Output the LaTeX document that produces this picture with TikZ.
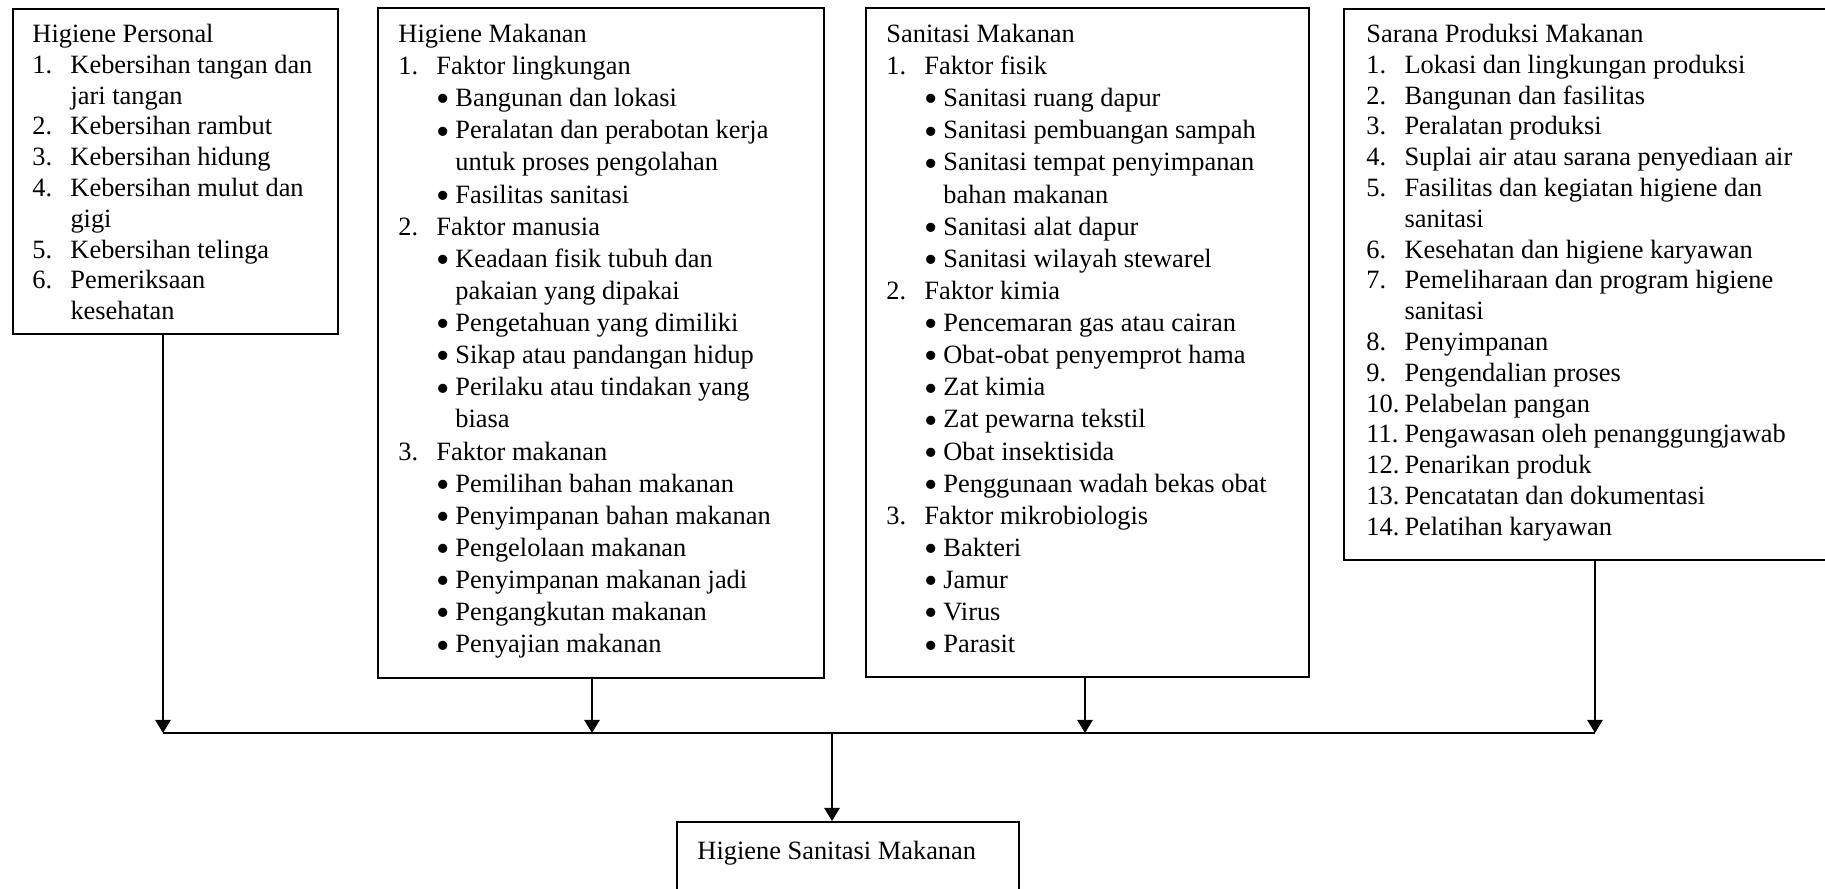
\documentclass[tikz,border=0pt]{standalone}
\usepackage{fontspec}
\usepackage{graphicx}
\setmainfont{Liberation Serif}
\usetikzlibrary{arrows.meta}

% list layout: number column and bullet column
\newlength\numw \setlength\numw{17.3pt}
\newlength\bulw \setlength\bulw{8.6pt}
\newcommand\bul{\raisebox{-2.4pt}{\scalebox{1.45}{\textbullet}}}
\newcommand\nitem[1]{\makebox[\numw][l]{#1}}
\newcommand\ncont{\hspace*{\numw}}
\newcommand\bitem{\hspace*{\numw}\makebox[\bulw][l]{\bul}}
\newcommand\bcont{\hspace*{\numw}\hspace*{\bulw}}
\newcommand\firstline{\rule{0pt}{10pt}}

\begin{document}
\begin{tikzpicture}[x=0.4545pt, y=-0.4545pt,
  panel/.style={draw, line width=0.9pt, inner sep=0pt, anchor=north west},
  txt/.style={anchor=north west, inner sep=0pt, align=left,
    font=\fontsize{12}{14}\selectfont},
  txtb/.style={txt, font=\fontsize{12}{14.6}\selectfont},
  arr/.style={line width=0.9pt, -{Triangle[length=6pt, width=7pt]}},
  bus/.style={line width=0.9pt}]
\useasboundingbox (0,0) rectangle (1825,888);

% frames
\node[panel, minimum width=325*0.4545pt, minimum height=325*0.4545pt] (b1) at (12,8) {};
\node[panel, minimum width=446*0.4545pt, minimum height=670*0.4545pt] (b2) at (377,7) {};
\node[panel, minimum width=443*0.4545pt, minimum height=669*0.4545pt] (b3) at (865,7) {};
\node[panel, minimum width=495*0.4545pt, minimum height=551*0.4545pt] (b4) at (1343,8) {};
\node[panel, minimum width=342*0.4545pt, minimum height=90*0.4545pt] (b5) at (676,821) {};

% texts
\node[txt] (t1) at (32,20) {\firstline Higiene Personal\\
\nitem{1.}Kebersihan tangan dan\\
\ncont jari tangan\\
\nitem{2.}Kebersihan rambut\\
\nitem{3.}Kebersihan hidung\\
\nitem{4.}Kebersihan mulut dan\\
\ncont gigi\\
\nitem{5.}Kebersihan telinga\\
\nitem{6.}Pemeriksaan\\
\ncont kesehatan};

\node[txtb] (t2) at (398,20) {\firstline Higiene Makanan\\
\nitem{1.}Faktor lingkungan\\
\bitem Bangunan dan lokasi\\
\bitem Peralatan dan perabotan kerja\\
\bcont untuk proses pengolahan\\
\bitem Fasilitas sanitasi\\
\nitem{2.}Faktor manusia\\
\bitem Keadaan fisik tubuh dan\\
\bcont pakaian yang dipakai\\
\bitem Pengetahuan yang dimiliki\\
\bitem Sikap atau pandangan hidup\\
\bitem Perilaku atau tindakan yang\\
\bcont biasa\\
\nitem{3.}Faktor makanan\\
\bitem Pemilihan bahan makanan\\
\bitem Penyimpanan bahan makanan\\
\bitem Pengelolaan makanan\\
\bitem Penyimpanan makanan jadi\\
\bitem Pengangkutan makanan\\
\bitem Penyajian makanan};

\node[txtb] (t3) at (886,20) {\firstline Sanitasi Makanan\\
\nitem{1.}Faktor fisik\\
\bitem Sanitasi ruang dapur\\
\bitem Sanitasi pembuangan sampah\\
\bitem Sanitasi tempat penyimpanan\\
\bcont bahan makanan\\
\bitem Sanitasi alat dapur\\
\bitem Sanitasi wilayah stewarel\\
\nitem{2.}Faktor kimia\\
\bitem Pencemaran gas atau cairan\\
\bitem Obat-obat penyemprot hama\\
\bitem Zat kimia\\
\bitem Zat pewarna tekstil\\
\bitem Obat insektisida\\
\bitem Penggunaan wadah bekas obat\\
\nitem{3.}Faktor mikrobiologis\\
\bitem Bakteri\\
\bitem Jamur\\
\bitem Virus\\
\bitem Parasit};

\node[txt] (t4) at (1366,20) {\firstline Sarana Produksi Makanan\\
\nitem{1.}Lokasi dan lingkungan produksi\\
\nitem{2.}Bangunan dan fasilitas\\
\nitem{3.}Peralatan produksi\\
\nitem{4.}Suplai air atau sarana penyediaan air\\
\nitem{5.}Fasilitas dan kegiatan higiene dan\\
\ncont sanitasi\\
\nitem{6.}Kesehatan dan higiene karyawan\\
\nitem{7.}Pemeliharaan dan program higiene\\
\ncont sanitasi\\
\nitem{8.}Penyimpanan\\
\nitem{9.}Pengendalian proses\\
\nitem{10.}Pelabelan pangan\\
\nitem{11.}Pengawasan oleh penanggungjawab\\
\nitem{12.}Penarikan produk\\
\nitem{13.}Pencatatan dan dokumentasi\\
\nitem{14.}Pelatihan karyawan};

\node[txt] (t5) at (697,837) {\firstline Higiene Sanitasi Makanan};

% collector line and connectors
\coordinate (j1) at (163,733);
\coordinate (j2) at (592,733);
\coordinate (j3) at (1085,733);
\coordinate (j4) at (1595,733);
\coordinate (jc) at (832,733);

\draw[bus] (j1) -- (j4);
\draw[arr] (b1.south -| j1) -- (j1);
\draw[arr] (b2.south -| j2) -- (j2);
\draw[arr] (b3.south -| j3) -- (j3);
\draw[arr] (b4.south -| j4) -- (j4);
\draw[arr] (jc) -- (jc |- b5.north);
\end{tikzpicture}
\end{document}
